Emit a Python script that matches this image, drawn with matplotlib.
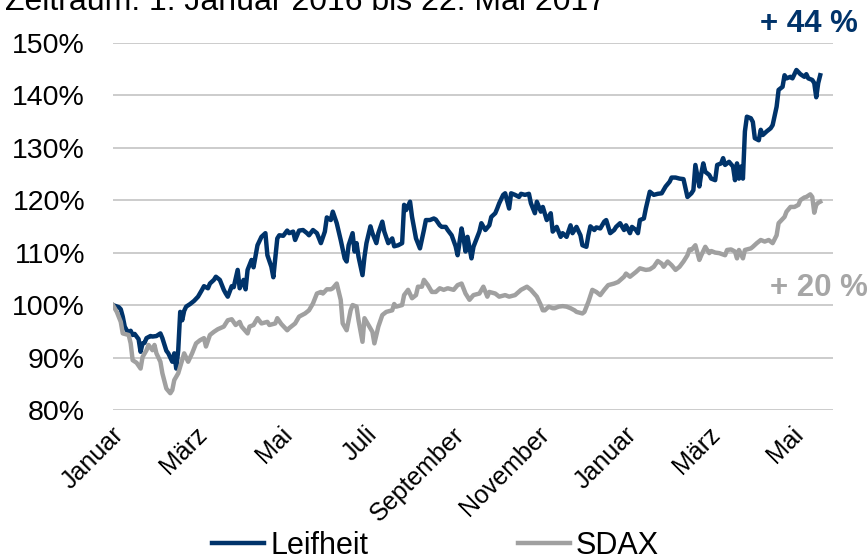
import matplotlib.pyplot as plt
import matplotlib.transforms as mtransforms

plt.rcParams['font.family'] = ['Liberation Sans', 'DejaVu Sans']

# trading day index (0 = 1. Januar 2016) and performance in %
leif_day = [0, 3, 4, 5, 6, 8, 9, 10, 11, 13, 14, 15, 16, 17, 19, 20, 22, 24, 25, 27,
            28, 30, 31, 32, 33, 34, 35, 36, 37, 39, 41, 43, 45, 46, 48, 49, 51, 52, 54, 56,
            57, 58, 60, 61, 63, 64, 66, 67, 68, 70, 71, 73, 75, 77, 78, 80, 81, 83, 84, 86,
            88, 89, 91, 92, 94, 96, 98, 99, 101, 103, 105, 107, 108, 110, 111, 113, 115, 117, 118, 119,
            121, 122, 123, 124, 126, 127, 128, 130, 131, 133, 134, 136, 137, 139, 141, 142, 144, 146, 147, 148,
            150, 151, 153, 155, 157, 158, 160, 162, 163, 165, 166, 168, 169, 171, 173, 174, 176, 177, 178, 179,
            181, 182, 184, 185, 186, 188, 190, 191, 193, 194, 195, 197, 198, 200, 201, 203, 205, 206, 208, 210,
            211, 213, 214, 216, 217, 219, 221, 222, 224, 226, 227, 229, 231, 232, 234, 236, 237, 239, 240, 241,
            243, 244, 246, 248, 249, 251, 253, 254, 256, 258, 259, 261, 262, 264, 265, 266, 268, 269, 271, 273,
            275, 277, 279, 281, 282, 284, 286, 288, 290, 292, 293, 294, 296, 297, 298, 299, 301, 302, 304, 305,
            307, 308, 309, 311, 313, 314, 315, 316, 317, 318, 319, 320, 322, 323, 324, 326, 327, 328, 330, 332,
            333, 335, 336, 338, 339, 340, 342, 343, 345, 347, 349, 350, 351, 353, 354, 355, 356, 357]
leif_val = [100.0, 99.6, 99.2, 97.8, 95.9, 94.5, 95.1, 94.3, 94.5, 93.5, 91.1, 92.7, 92.8, 93.7, 94.1, 94.0, 94.1, 94.6, 93.7, 91.3,
            90.8, 89.2, 90.8, 87.9, 91.4, 98.7, 97.1, 98.9, 99.7, 100.2, 100.8, 101.6, 102.9, 103.6, 103.2, 104.1, 104.8, 105.4, 104.8, 102.9,
            102.2, 101.6, 103.6, 103.4, 106.7, 103.2, 104.8, 103.0, 106.7, 108.6, 107.2, 111.4, 113.0, 113.7, 109.5, 107.3, 105.3, 112.7, 113.3, 113.2,
            114.2, 113.7, 114.0, 112.4, 114.2, 114.3, 113.7, 113.3, 114.3, 113.7, 111.8, 114.0, 116.7, 116.2, 117.8, 115.6, 112.4, 108.9, 108.3, 111.4,
            113.7, 110.2, 111.8, 109.2, 105.7, 109.2, 111.8, 115.0, 113.7, 111.8, 113.7, 115.9, 114.0, 111.8, 112.7, 111.2, 111.4, 111.8, 119.1, 118.1,
            119.7, 116.8, 112.7, 110.8, 114.3, 116.2, 116.2, 116.5, 116.3, 115.2, 114.9, 114.9, 114.3, 113.3, 111.2, 109.5, 114.6, 112.7, 110.2, 113.0,
            108.9, 111.1, 113.0, 114.0, 115.6, 114.3, 115.2, 116.8, 117.5, 118.4, 119.4, 121.0, 121.3, 118.4, 121.3, 121.0, 120.6, 121.2, 121.0, 121.2,
            119.4, 117.5, 119.7, 117.8, 118.7, 116.2, 117.5, 114.0, 114.9, 113.0, 113.7, 113.0, 115.2, 113.7, 114.9, 113.3, 111.4, 111.1, 113.3, 115.0,
            114.3, 114.8, 114.6, 115.9, 116.2, 113.7, 114.3, 114.9, 115.6, 114.3, 115.2, 113.7, 114.9, 114.3, 113.7, 116.2, 116.5, 118.4, 121.6, 121.0,
            121.2, 121.3, 122.6, 123.5, 124.3, 124.3, 124.1, 124.0, 120.6, 121.3, 121.9, 126.7, 122.6, 125.1, 127.0, 125.4, 124.8, 124.1, 123.8, 126.7,
            127.0, 128.0, 126.7, 127.3, 126.4, 123.8, 127.0, 124.1, 126.4, 124.1, 133.1, 135.9, 135.6, 134.9, 131.8, 131.4, 133.4, 132.4, 133.1, 133.7,
            134.3, 137.8, 141.0, 141.6, 143.8, 143.2, 143.5, 143.2, 144.8, 144.0, 143.5, 144.0, 143.2, 142.9, 142.3, 139.6, 142.3, 143.8]

sdax_day = [0, 2, 4, 5, 8, 9, 10, 12, 14, 15, 17, 18, 20, 21, 22, 24, 25, 27, 29, 30,
            31, 33, 35, 36, 38, 40, 42, 44, 46, 47, 49, 51, 53, 56, 58, 60, 62, 64, 65, 68,
            69, 71, 73, 75, 78, 79, 82, 83, 85, 88, 89, 92, 94, 97, 99, 101, 103, 105, 106, 108,
            110, 111, 113, 115, 116, 118, 120, 121, 123, 124, 126, 127, 129, 131, 132, 134, 136, 138, 141, 142,
            143, 146, 147, 149, 151, 153, 154, 156, 157, 159, 161, 163, 165, 167, 169, 172, 174, 176, 178, 180,
            182, 185, 187, 189, 190, 193, 195, 198, 200, 203, 206, 209, 211, 214, 216, 217, 218, 220, 222, 223,
            225, 227, 229, 231, 233, 234, 237, 238, 240, 242, 244, 246, 248, 250, 253, 255, 258, 259, 261, 263,
            264, 266, 269, 271, 273, 275, 277, 278, 280, 282, 284, 286, 288, 290, 291, 292, 294, 296, 297, 299,
            301, 302, 304, 306, 309, 310, 312, 314, 315, 316, 318, 319, 322, 323, 325, 327, 329, 331, 333, 335,
            336, 339, 340, 342, 344, 346, 347, 349, 350, 352, 353, 354, 355, 356, 357]
sdax_val = [100.0, 98.7, 96.8, 94.6, 94.3, 92.7, 89.5, 89.0, 87.9, 90.1, 91.4, 92.4, 91.4, 92.4, 90.8, 89.2, 87.0, 84.1, 83.2, 83.8,
            85.7, 87.0, 89.5, 90.8, 89.2, 90.8, 92.7, 93.3, 93.7, 92.1, 94.3, 94.9, 95.4, 95.9, 97.1, 97.3, 96.2, 96.8, 95.9, 94.6,
            95.9, 96.2, 97.5, 96.5, 96.8, 96.2, 96.5, 97.5, 96.4, 95.2, 95.6, 96.5, 97.8, 98.4, 99.0, 100.3, 102.2, 102.5, 102.2, 103.0,
            103.0, 103.2, 104.1, 101.0, 96.5, 95.2, 99.0, 100.0, 99.7, 97.1, 93.0, 97.5, 96.2, 94.9, 92.7, 95.9, 98.1, 98.7, 99.0, 100.2,
            99.7, 100.0, 101.9, 102.9, 101.3, 101.9, 103.5, 103.5, 104.8, 103.8, 102.5, 102.5, 103.2, 102.9, 103.2, 102.9, 103.8, 104.1, 102.2, 101.0,
            101.9, 102.2, 103.5, 101.6, 102.5, 102.2, 101.6, 101.9, 101.6, 101.9, 102.9, 103.5, 102.9, 101.6, 100.0, 99.0, 99.0, 99.7, 99.4, 99.4,
            99.7, 99.8, 99.7, 99.4, 99.0, 98.7, 98.4, 98.7, 100.6, 102.9, 102.5, 101.9, 102.9, 103.8, 104.1, 104.4, 105.4, 106.0, 105.4, 106.0,
            106.3, 107.0, 106.7, 106.8, 107.3, 108.4, 107.9, 107.3, 108.3, 107.6, 106.7, 107.3, 108.3, 109.5, 110.6, 110.5, 111.4, 108.6, 109.5, 111.1,
            109.9, 110.3, 110.0, 109.9, 109.5, 110.5, 110.6, 110.2, 108.9, 110.5, 108.9, 110.5, 110.8, 111.1, 111.8, 112.4, 112.1, 112.4, 111.8, 113.3,
            115.6, 116.8, 117.8, 118.7, 118.7, 119.1, 120.0, 120.5, 120.6, 121.1, 120.6, 117.6, 119.1, 119.5, 119.7]

tick_days = [0, 42, 85, 128, 172, 215, 259, 301, 343]
tick_labels = ["Januar", "März", "Mai", "Juli", "September", "November", "Januar", "März", "Mai"]
y_ticks = [80, 90, 100, 110, 120, 130, 140, 150]

navy = "#00336a"
grey = "#a0a0a0"

fig = plt.figure(figsize=(8.68, 5.58), dpi=100)
ax = fig.add_axes([0.130, 0.2652, 0.830, 0.6583])

ax.plot(leif_day, leif_val, color=navy, lw=3.2, label="Leifheit", solid_joinstyle="round")
ax.plot(sdax_day, sdax_val, color=grey, lw=3.2, label="SDAX", solid_joinstyle="round")

ax.set_xlim(0, 363.6)
ax.set_ylim(80, 150)
ax.set_yticks(y_ticks)
ax.set_yticklabels([f"{v}%" for v in y_ticks])
ax.set_xticks(tick_days)
ax.set_xticklabels(tick_labels, rotation=45, ha="right", va="center", rotation_mode="anchor")
ax.tick_params(axis="y", length=0, pad=20, labelsize=20.5)
ax.tick_params(axis="x", length=0, pad=15, labelsize=18)
# nudge the rotated month labels a little to the right
shift = mtransforms.ScaledTranslation(7 / 100, 0, fig.dpi_scale_trans)
for lab in ax.get_xticklabels():
    lab.set_transform(lab.get_transform() + shift)
ax.grid(axis="y", color="#c4c4c4", lw=1.2)
ax.set_axisbelow(True)
for s in ax.spines.values():
    s.set_visible(False)

fig.text(0.006, 0.982, "Zeitraum: 1. Januar 2016 bis 22. Mai 2017", fontsize=23, va="baseline", ha="left")
fig.text(0.988, 0.943, "+ 44 %", fontsize=22.5, fontweight="bold", color=navy, ha="right", va="baseline")
fig.text(0.887, 0.470, "+ 20 %", fontsize=22.5, fontweight="bold", color="#a6a6a6", ha="left", va="baseline")

fig.legend(loc="center", bbox_to_anchor=(0.502, 0.022), ncol=2, frameon=False, fontsize=22,
           handlelength=1.7, handletextpad=0.2, columnspacing=4.9)

fig.savefig("out.png", dpi=100)
